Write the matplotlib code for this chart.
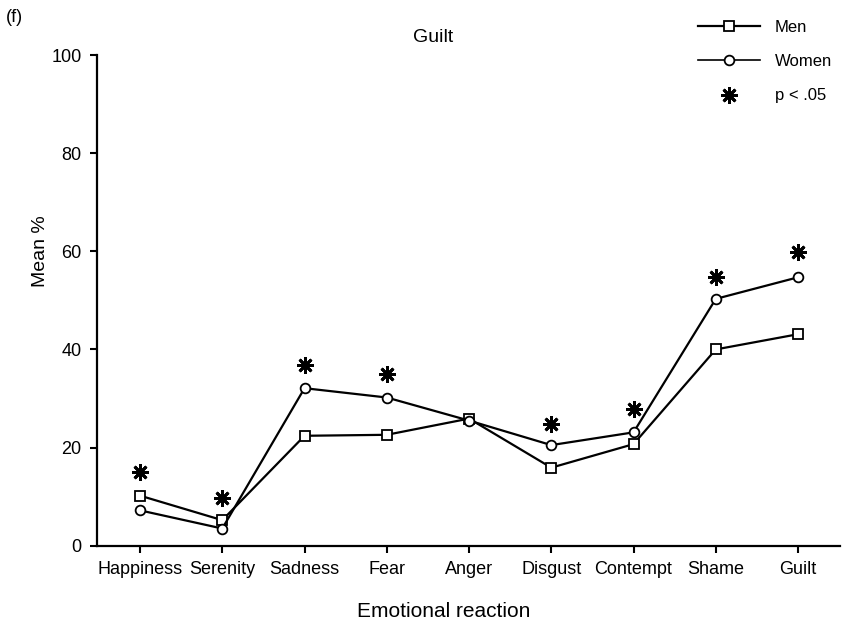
import matplotlib
matplotlib.use("Agg")
import matplotlib.pyplot as plt
from matplotlib.lines import Line2D

plt.rcParams['font.family'] = ['Liberation Sans', 'DejaVu Sans']

emotions = ["Happiness", "Serenity", "Sadness", "Fear", "Anger",
            "Disgust", "Contempt", "Shame", "Guilt"]
men = [10.2, 5.2, 22.4, 22.6, 25.9, 15.9, 20.7, 40.0, 43.1]
women = [7.2, 3.5, 32.1, 30.2, 25.5, 20.5, 23.1, 50.3, 54.7]
# emotions with significant gender difference, and where the star sits
sig_emotions = ["Happiness", "Serenity", "Sadness", "Fear",
                "Disgust", "Contempt", "Shame", "Guilt"]
sig_heights = [15.1, 9.8, 36.8, 35.0, 24.9, 27.8, 54.7, 59.8]

x = list(range(1, len(emotions) + 1))
sig_x = [emotions.index(e) + 1 for e in sig_emotions]

fig = plt.figure(figsize=(8.45, 6.27), dpi=100)
ax = fig.add_axes([97 / 845, 1 - 545.7 / 627, 743 / 845, 490.7 / 627])

star = (8, 2, 0)
ax.plot(x, men, color='black', lw=1.6, marker='s', markersize=7,
        markerfacecolor='white', markeredgecolor='black', markeredgewidth=1.3,
        zorder=3)
ax.plot(x, women, color='black', lw=1.6, marker='o', markersize=7,
        markerfacecolor='white', markeredgecolor='black', markeredgewidth=1.3,
        zorder=3)
ax.plot(sig_x, sig_heights, linestyle='none', marker=star, markersize=12,
        color='black', markeredgewidth=2, zorder=3)

ax.set_xlim(0.477, 9.51)
ax.set_ylim(0, 100)
ax.set_xticks(x)
ax.set_xticklabels(emotions)
ax.set_yticks([0, 20, 40, 60, 80, 100])

for side in ['top', 'right']:
    ax.spines[side].set_visible(False)
for side in ['left', 'bottom']:
    ax.spines[side].set_linewidth(1.6)
ax.tick_params(axis='both', direction='out', length=5, width=1.5,
               labelsize=13, pad=6)

ax.set_xlabel("Emotional reaction", fontsize=15)
ax.xaxis.set_label_coords(0.466, -0.115)
ax.set_ylabel("Mean %", fontsize=14)
ax.yaxis.set_label_coords(-0.065, 0.6)

fig.text(433 / 845, 1 - 37 / 627, "Guilt", fontsize=14, ha='center', va='center')
fig.text(6 / 845, 1 - 18 / 627, "(f)", fontsize=13, ha='left', va='center')

handles = [
    Line2D([], [], color='black', lw=1.6, marker='s', markersize=7,
           markerfacecolor='white', markeredgewidth=1.3),
    Line2D([], [], color='black', lw=1.2, marker='o', markersize=7,
           markerfacecolor='white', markeredgewidth=1.3),
    Line2D([], [], linestyle='none', marker=star, markersize=12,
           color='black', markeredgewidth=2),
]
fig.legend(handles, ["Men", "Women", "p < .05"], loc='upper left',
           bbox_to_anchor=(698 / 845, 1 - 20 / 627), frameon=False,
           fontsize=12, handlelength=3.7, handletextpad=0.9,
           labelspacing=1.15, borderpad=0, borderaxespad=0)

fig.savefig("out.png", dpi=100)
